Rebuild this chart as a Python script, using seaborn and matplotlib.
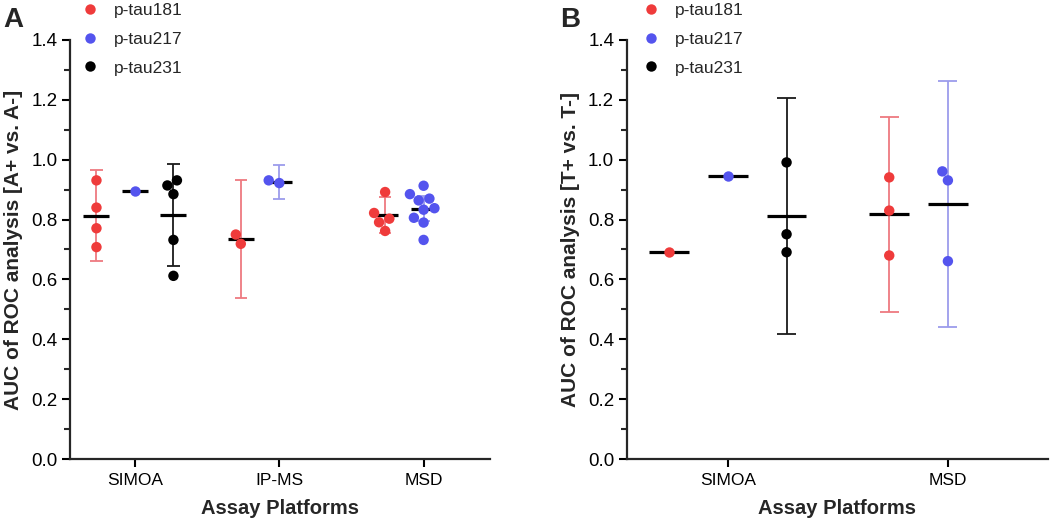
import numpy as np
import pandas as pd
import matplotlib
matplotlib.use("Agg")
import matplotlib.pyplot as plt
from matplotlib.lines import Line2D
from matplotlib.ticker import MultipleLocator, FormatStrFormatter
import seaborn as sns

# ---------------- data ----------------
markers = ["p-tau181", "p-tau217", "p-tau231"]
colors = ["#EF3B3B", "#5454EE", "#000000"]
err_colors = ["#EE7A80", "#9C9CEC", "#1A1A1A"]

# Panel A: AUC for A+ vs. A-
A_platforms = ["SIMOA", "IP-MS", "MSD"]
A_simoa_181 = [0.931, 0.840, 0.771, 0.708]
A_simoa_217 = [0.896]
A_simoa_231 = [0.931, 0.914, 0.885, 0.732, 0.612]
A_ipms_181 = [0.719, 0.750]
A_ipms_217 = [0.922, 0.931]
A_msd_181 = [0.892, 0.822, 0.803, 0.791, 0.762]
A_msd_217 = [0.913, 0.885, 0.870, 0.864, 0.833, 0.838, 0.806, 0.790, 0.732]

# Panel B: AUC for T+ vs. T-
B_platforms = ["SIMOA", "MSD"]
B_simoa_181 = [0.690]
B_simoa_217 = [0.946]
B_simoa_231 = [0.991, 0.751, 0.691]
B_msd_181 = [0.941, 0.830, 0.680]
B_msd_217 = [0.961, 0.931, 0.661]

# two-sided 95% t critical values by degrees of freedom
T95 = {1: 12.706, 2: 4.303, 3: 3.182, 4: 2.776, 5: 2.571,
       6: 2.447, 7: 2.365, 8: 2.306, 9: 2.262}


def frame(groups):
    rows = []
    for (plat, mk), vals in groups.items():
        for v in vals:
            rows.append((plat, mk, v))
    return pd.DataFrame(rows, columns=["platform", "marker", "auc"])


df_A = frame({
    ("SIMOA", "p-tau181"): A_simoa_181,
    ("SIMOA", "p-tau217"): A_simoa_217,
    ("SIMOA", "p-tau231"): A_simoa_231,
    ("IP-MS", "p-tau181"): A_ipms_181,
    ("IP-MS", "p-tau217"): A_ipms_217,
    ("MSD", "p-tau181"): A_msd_181,
    ("MSD", "p-tau217"): A_msd_217,
})
df_B = frame({
    ("SIMOA", "p-tau181"): B_simoa_181,
    ("SIMOA", "p-tau217"): B_simoa_217,
    ("SIMOA", "p-tau231"): B_simoa_231,
    ("MSD", "p-tau181"): B_msd_181,
    ("MSD", "p-tau217"): B_msd_217,
})

# ---------------- style ----------------
sns.set_theme(style="ticks")
plt.rcParams["font.family"] = ["Liberation Sans", "DejaVu Sans"]
plt.rcParams["axes.linewidth"] = 1.6

W, H = 1050, 523
fig = plt.figure(figsize=(W / 100, H / 100), dpi=100)


def draw_panel(ax, df, platforms, xlim, ylabel):
    n_h = len(markers)
    step = 0.8 / n_h
    for ci, plat in enumerate(platforms):
        for hi, mk in enumerate(markers):
            vals = df[(df.platform == plat) & (df.marker == mk)]["auc"].to_numpy()
            if len(vals) == 0:
                continue
            x = ci + (hi - (n_h - 1) / 2) * step
            m = vals.mean()
            if len(vals) > 1:
                half = T95[len(vals) - 1] * vals.std(ddof=1) / np.sqrt(len(vals))
                ax.vlines(x, m - half, m + half, color=err_colors[hi], lw=1.3, zorder=1)
                ax.hlines([m - half, m + half], x - 0.043, x + 0.043,
                          color=err_colors[hi], lw=1.3, zorder=1)
            ax.hlines(m, x - 0.09, x + 0.09, color="black", lw=2.3, zorder=2)

    sns.swarmplot(data=df, x="platform", y="auc", hue="marker",
                  order=platforms, hue_order=markers, palette=colors,
                  dodge=True, size=7.5, linewidth=0, legend=False, ax=ax, zorder=3)

    ax.set_xlim(*xlim)
    ax.set_ylim(0, 1.4)
    ax.yaxis.set_major_locator(MultipleLocator(0.2))
    ax.yaxis.set_minor_locator(MultipleLocator(0.1))
    ax.yaxis.set_major_formatter(FormatStrFormatter("%.1f"))
    sns.despine(ax=ax)
    ax.tick_params(axis="both", which="major", length=6, width=1.5,
                   colors="black", pad=4)
    ax.tick_params(axis="y", which="major", labelsize=13.5, pad=3)
    ax.tick_params(axis="x", which="major", labelsize=12.5)
    ax.tick_params(axis="y", which="minor", length=4, width=1.5, left=True)
    ax.set_xlabel("Assay Platforms", fontsize=14.5, fontweight="bold", labelpad=8)
    ax.set_ylabel(ylabel, fontsize=15, fontweight="bold", labelpad=6)


axA = fig.add_axes([70 / W, 1 - 459 / H, 420 / W, 419 / H])
draw_panel(axA, df_A, A_platforms, (-0.45, 2.46), "AUC of ROC analysis [A+ vs. A-]")

axB = fig.add_axes([626.7 / W, 1 - 459 / H, 421.3 / W, 419 / H])
draw_panel(axB, df_B, B_platforms, (-0.46, 1.455), "AUC of ROC analysis [T+ vs. T-]")

fig.text(3 / W, 1 - 7 / H, "A", fontsize=20, fontweight="bold", va="top", ha="left")
fig.text(560 / W, 1 - 7 / H, "B", fontsize=20, fontweight="bold", va="top", ha="left")

handles = [Line2D([], [], marker="o", ls="", color=c, markersize=7.5, markeredgewidth=0)
           for c in colors]
for x0 in (81.7, 642.7):
    fig.legend(handles, markers, loc="upper left",
               bbox_to_anchor=(x0 / W, 1 - 3 / H), bbox_transform=fig.transFigure,
               frameon=False, fontsize=12.5, borderpad=0, handlelength=1,
               handletextpad=0.85, labelspacing=0.78, borderaxespad=0)

fig.savefig("out.png", dpi=100)
